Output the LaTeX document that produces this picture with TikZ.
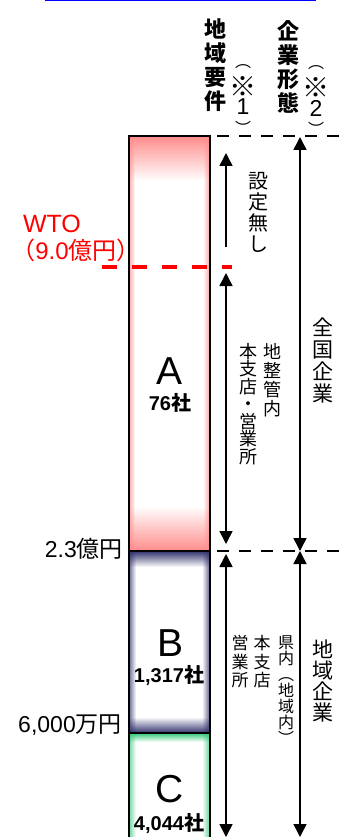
\documentclass[tikz,border=0pt]{standalone}
\usepackage{fontspec}
\usepackage{graphicx}
\setmainfont{Liberation Sans}
\newfontfamily\jp{Noto Sans CJK JP}
\usetikzlibrary{arrows.meta}
\definecolor{pinkA}{RGB}{255,140,140}
\definecolor{navyB}{RGB}{50,50,110}
\definecolor{greenC}{RGB}{50,200,120}
\newcommand\glowbar[7]{%
  \fill[white] (#1,#2) rectangle (#3,#4);
  \shade[top color=#5, bottom color=white] (#1,#2) rectangle (#3,#2+#6);
  \shade[top color=white, bottom color=#5] (#1,#4-#6) rectangle (#3,#4);
  \foreach \k in {1,...,#7}{%
    \pgfmathsetmacro\op{0.7*(1-(\k-1)/#7)}
    \fill[#5, opacity=\op] (#1+\k-1,#2) rectangle (#1+\k,#4);
    \fill[#5, opacity=\op] (#3-\k,#2) rectangle (#3-\k+1,#4);
  }%
}
\begin{document}
\begin{tikzpicture}[x=1pt,y=-1pt,
  tipA/.tip={Triangle[width=13pt,length=13pt]},
  arr/.style={line width=1.5pt,-tipA},
  darr/.style={line width=1.5pt,tipA-tipA},
  lvl/.style={line width=2.5pt,dash pattern=on 12pt off 10pt},
  barline/.style={line width=2.5pt},
  vt/.style={align=center,inner sep=0pt},
  hd/.style={vt,font={\jp\bfseries\fontsize{22}{24}\selectfont}},
  par/.style={inner sep=0pt,font={\jp\fontsize{16}{16}\selectfont}},
  ref/.style={inner sep=0pt,font={\jp\bfseries\fontsize{18}{18}\selectfont}},
  num/.style={inner sep=0pt,font={\fontsize{23}{23}\selectfont}},
  big/.style={inner sep=0pt,font={\fontsize{39}{39}\selectfont}},
  cnt/.style={inner sep=0pt,anchor=base,font={\bfseries\fontsize{20}{20}\selectfont}},
  val/.style={inner sep=0pt,anchor=base east,font={\fontsize{23}{23}\selectfont}}]
\useasboundingbox (0,0) rectangle (342,837);
\clip (0,0) rectangle (342,837);
% top blue line
\fill[blue] (45,0) rectangle (316,1.5);
% bars
\glowbar{129}{136}{210}{551}{pinkA}{45}{6}
\glowbar{129}{551}{210}{733}{navyB}{16}{7}
\glowbar{129}{733}{210}{850}{greenC}{9}{7}
\draw[barline] (129,136) rectangle (210,551);
\draw[barline] (129,551) rectangle (210,733);
\draw[barline] (129,733) rectangle (210,850);
% level coordinates
\coordinate (t0) at (217,136);
\coordinate (t1) at (342,136);
\coordinate (m0) at (217,551);
\coordinate (m1) at (342,551);
\coordinate (w0) at (102,267);
\coordinate (w1) at (232,267);
\draw[lvl] (t0) -- (t1);
\draw[lvl] (m0) -- (m1);
\draw[red,line width=4pt,dash pattern=on 15pt off 15pt] (w0) -- (w1);
% arrows column 1
\coordinate (a1) at (226,247);
\coordinate (a2) at (226,153);
\coordinate (a3) at (226,273);
\coordinate (a4) at (226,544);
\coordinate (a5) at (226,554);
\coordinate (a6) at (226,837);
\draw[arr] (a1) -- (a2);
\draw[darr] (a3) -- (a4);
\draw[darr] (a5) -- (a6);
% arrows column 2
\coordinate (b1) at (300,137);
\coordinate (b2) at (300,551);
\coordinate (b3) at (300,837);
\draw[darr] (b1) -- (b2);
\draw[darr] (b2) -- (b3);
% headers
\node[hd] (h1) at (215,65) {地\\域\\要\\件};
\node[par] (h1p) at (243,67) {︵};
\node[ref] (h1r) at (243,87) {\scalebox{1.5}{※}};
\node[num] (h1n) at (243,107) {1};
\node[par] (h1q) at (243,127.5) {︶};
\node[hd] (h2) at (288,67) {企\\業\\形\\態};
\node[par] (h2p) at (316,68) {︵};
\node[ref] (h2r) at (316,88) {\scalebox{1.5}{※}};
\node[num] (h2n) at (316,108) {2};
\node[par] (h2q) at (316,128.5) {︶};
% column texts
\node[vt,font={\jp\fontsize{20}{21}\selectfont}] (s1) at (258,212) {設\\定\\無\\し};
\node[vt,font={\jp\fontsize{18}{19}\selectfont}] (s2) at (272,380) {地\\整\\管\\内};
\node[vt,font={\jp\fontsize{18}{17.5}\selectfont}] (s3) at (248,404) {本\\支\\店\\・\\営\\業\\所};
\node[vt,font={\jp\fontsize{21}{22}\selectfont}] (s4) at (323,360) {全\\国\\企\\業};
\node[vt,font={\jp\fontsize{16}{16}\selectfont}] (s5) at (286,690) {県\\内\\︵\\地\\域\\内\\︶};
\node[vt,font={\jp\fontsize{17}{18.5}\selectfont}] (s6) at (262,662) {本\\支\\店};
\node[vt,font={\jp\fontsize{17}{18.5}\selectfont}] (s7) at (240,662) {営\\業\\所};
\node[vt,font={\jp\fontsize{21}{21}\selectfont}] (s8) at (323,681) {地\\域\\企\\業};
% bar labels
\node[big] (A) at (170,371) {A};
\node[cnt] (An) at (170,410) {76{\jp 社}};
\node[big] (B) at (171,643) {B};
\node[cnt] (Bn) at (169,682) {1,317{\jp 社}};
\node[big] (C) at (170,789) {C};
\node[cnt] (Cn) at (169,830) {4,044{\jp 社}};
% left labels
\node[inner sep=0pt,anchor=base,red,font={\fontsize{25}{25}\selectfont}] (wto) at (52,232) {WTO};
\node[inner sep=0pt,anchor=base,red,font={\fontsize{24}{24}\selectfont}] (wtov) at (76,259) {{\jp （}9.0{\jp 億円）}};
\node[val] (v1) at (123,557) {2.3{\jp 億円}};
\node[val] (v2) at (122,732) {6,000{\jp 万円}};
\end{tikzpicture}
\end{document}
